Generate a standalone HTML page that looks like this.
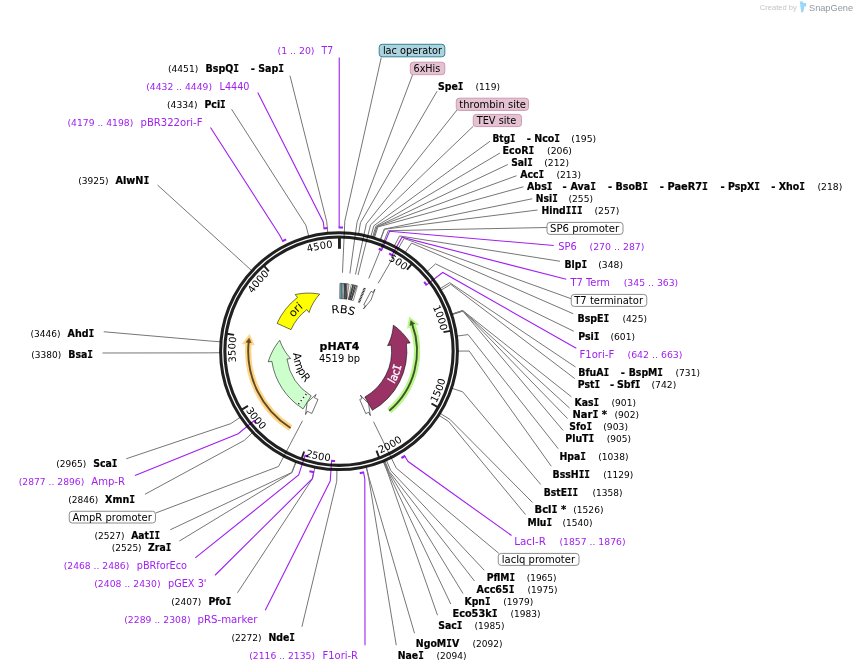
<!DOCTYPE html>
<html><head><meta charset="utf-8"><title>pHAT4 Map</title>
<style>html,body{margin:0;padding:0;background:#fff}svg{display:block;opacity:0.999;will-change:transform}</style>
</head><body>
<svg width="857" height="672" viewBox="0 0 857 672" font-family='"DejaVu Sans", "Liberation Sans", sans-serif'>
<rect width="857" height="672" fill="#fff"/>
<path d="M290,75.75 L326.71,221.58 L327.77,232.73 M231.6,109.25 L305.88,225.28 L308.73,236.12 M157.5,185 L243.28,262.94 L251.52,270.53 M103.75,331.75 L209.21,340.94 L220.37,341.82 M102.5,353 L208.81,352.87 L220.01,352.73 M126.25,458.75 L230.8,423.62 L240.11,417.39 M145,494.25 L244.21,440.46 L252.36,432.78 M155.75,513 L278.51,466.5 L302.53,420.71 M170.25,529.75 L291.68,472.5 L295.75,462.06 M179.4,541 L292.02,472.63 L296.06,462.18 M237.5,592.75 L312.48,478.67 L314.77,467.71 M301.9,626.75 L336.74,481.38 L336.93,470.18 M381.25,57.5 L344.79,221.13 L342.49,272.78 M412.5,75 L357.04,222.26 L349.88,273.46 M437,91.25 L360.44,222.78 L358.6,233.83 M457,110 L366.31,223.9 L355.47,274.45 M473.25,126.25 L370.54,224.88 L358.02,275.04 M490,141.25 L373.87,225.76 L370.87,236.55 M500,153 L375.78,226.3 L372.62,237.05 M507.75,164.5 L376.82,226.62 L373.57,237.33 M516.5,175.75 L377,226.67 L373.73,237.38 M523.5,186.75 L377.86,226.94 L374.52,237.62 M532.25,198.75 L384.2,229.1 L380.31,239.6 M537.5,210 L384.54,229.22 L380.62,239.72 M547,227.5 L388.25,230.67 L368.69,278.53 M560,261.25 L399.57,235.95 L394.36,245.86 M571.25,298.75 L404.09,238.44 L378.24,283.21 M573.25,313.75 L411.54,243.08 L405.3,252.38 M573.75,331.25 L435.57,263.87 L427.26,271.39 M575.5,367 L449.7,282.66 L440.17,288.55 M574.8,378.6 L450.73,284.36 L441.12,290.11 M571.4,396.8 L462.67,310.48 L452.03,313.99 M569.6,408.1 L462.73,310.66 L452.08,314.14 M567.6,418.6 L462.78,310.83 L452.13,314.3 M563.1,430.5 L462.89,311.17 L452.24,314.62 M558.25,448.75 L468.14,334.64 L457.03,336.06 M551.25,466.25 L469.2,351.06 L458,351.08 M540.75,484.5 L462.7,391.83 L452.06,388.33 M532.5,502.5 L449.93,419.36 L440.39,413.5 M525.5,514.5 L448.59,421.5 L439.16,415.46 M498.75,553.25 L396.26,468.13 L373.52,421.7 M484.25,570.25 L390.84,470.64 L386.38,460.36 M474.5,581 L389.17,471.35 L384.85,461.01 M463,593.5 L388.5,471.62 L384.24,461.26 M450.75,604 L387.83,471.9 L383.63,461.51 M437.5,615.25 L387.49,472.03 L383.32,461.64 M414.5,633.25 L369.05,477.89 L366.46,466.99 M396.25,645.25 L368.7,477.97 L366.14,467.06" fill="none" stroke="#767676" stroke-width="1"/>
<path d="M339.25,57.5 L339.18,221 L339.17,227.5 M257.75,92.5 L323.29,221.95 L324.07,228.4 M210.5,127.5 L279.72,235.28 L282.68,241.07 M135,475.5 L238.24,433.66 L254.03,420.74 M195.25,557.9 L298.67,475 L304.99,455.6 M215,575.25 L312.31,478.63 L313.64,472.27 M265.25,610.25 L330.23,481.1 L331.6,460.75 M365,645.25 L364.81,478.82 L363.52,472.45 M553.75,245.5 L389.59,231.23 L381.66,250.03 M566.25,279.25 L401.96,237.23 L392.09,255.09 M576.25,348.25 L442.73,272.51 L426.48,284.84 M511.5,535.5 L408.12,461.54 L404.67,456.03" fill="none" stroke="#a020f0" stroke-width="1.1"/>
<circle cx="339" cy="351.2" r="118.4" fill="none" stroke="#000" stroke-opacity="0.875" stroke-width="3"/>
<circle cx="339" cy="351.2" r="114.15" fill="none" stroke="#000" stroke-opacity="0.875" stroke-width="3.1"/>
<path d="M338.62,227.5 A123.7 123.7 0 0 1 342.99,227.56 M323.53,228.47 A123.7 123.7 0 0 1 327.53,228.03 M282.19,241.32 A123.7 123.7 0 0 1 286.1,239.38 M256.25,423.37 A109.8 109.8 0 0 1 253.68,420.31 M308.14,456.57 A109.8 109.8 0 0 1 304.47,455.43 M314.18,472.38 A123.7 123.7 0 0 1 309.41,471.31 M335.05,460.93 A109.8 109.8 0 0 1 331.05,460.71 M364.06,472.34 A123.7 123.7 0 0 1 359.76,473.14 M378.75,248.85 A109.8 109.8 0 0 1 382.17,250.24 M389.18,253.54 A109.8 109.8 0 0 1 392.58,255.36 M424.16,281.89 A109.8 109.8 0 0 1 426.81,285.28 M405.13,455.74 A123.7 123.7 0 0 1 401.4,458.01" fill="none" stroke="#a020f0" stroke-width="2.1"/>
<path d="M411.7,264.04 L407.02,269.65 M450.66,330.84 L443.48,332.14 M437.79,407.08 L431.44,403.49 M379.07,457.39 L376.49,450.56 M301.75,458.41 L304.15,451.52 M241.72,409.67 L247.98,405.91 M226.84,333.79 L234.06,334.91 M264.02,265.99 L268.84,271.47" stroke="#202020" stroke-width="1.9" fill="none"/>
<path d="M339.45,237.7 L339.45,248.8" stroke="#202020" stroke-width="2.9" fill="none"/>
<path id="tp1" d="M260.91,419.27 A103.6 103.6 0 0 1 404.09,270.6 A103.6 103.6 0 0 1 288.9,441.88" fill="none"/>
<text font-size="10" fill="#000"><textPath href="#tp1" startOffset="50%" text-anchor="end" textLength="19.08" lengthAdjust="spacingAndGlyphs">500</textPath></text>
<path id="tp2" d="M235.42,353.45 A103.6 103.6 0 0 1 440.61,330.99 A103.6 103.6 0 0 1 242.44,388.74" fill="none"/>
<text font-size="10" fill="#000"><textPath href="#tp2" startOffset="50%" text-anchor="end" textLength="25.44" lengthAdjust="spacingAndGlyphs">1000</textPath></text>
<path id="tp3" d="M234.16,316.93 A110.3 110.3 0 0 0 436.3,403.16 A110.3 110.3 0 0 0 252.2,283.14" fill="none"/>
<text font-size="10" fill="#000"><textPath href="#tp3" startOffset="50%" text-anchor="start" textLength="25.44" lengthAdjust="spacingAndGlyphs">1500</textPath></text>
<path id="tp4" d="M280.44,257.73 A110.3 110.3 0 0 0 380.44,453.42 A110.3 110.3 0 0 0 315.95,243.34" fill="none"/>
<text font-size="10" fill="#000"><textPath href="#tp4" startOffset="50%" text-anchor="start" textLength="25.44" lengthAdjust="spacingAndGlyphs">2000</textPath></text>
<path id="tp5" d="M353.91,241.91 A110.3 110.3 0 0 0 305.34,456.24 A110.3 110.3 0 0 0 390.39,253.6" fill="none"/>
<text font-size="10" fill="#000"><textPath href="#tp5" startOffset="50%" text-anchor="start" textLength="25.44" lengthAdjust="spacingAndGlyphs">2500</textPath></text>
<path id="tp6" d="M420.45,276.82 A110.3 110.3 0 0 0 245.87,410.3 A110.3 110.3 0 0 0 440.98,309.17" fill="none"/>
<text font-size="10" fill="#000"><textPath href="#tp6" startOffset="50%" text-anchor="start" textLength="25.44" lengthAdjust="spacingAndGlyphs">3000</textPath></text>
<path id="tp7" d="M437.58,383.06 A103.6 103.6 0 0 1 236.39,336.94 A103.6 103.6 0 0 1 442.53,347.43" fill="none"/>
<text font-size="10" fill="#000"><textPath href="#tp7" startOffset="50%" text-anchor="end" textLength="25.44" lengthAdjust="spacingAndGlyphs">3500</textPath></text>
<path id="tp8" d="M394.29,438.81 A103.6 103.6 0 0 1 269.34,274.52 A103.6 103.6 0 0 1 420.92,414.62" fill="none"/>
<text font-size="10" fill="#000"><textPath href="#tp8" startOffset="50%" text-anchor="end" textLength="25.44" lengthAdjust="spacingAndGlyphs">4000</textPath></text>
<path id="tp9" d="M327.17,454.12 A103.6 103.6 0 0 1 332.78,247.79 A103.6 103.6 0 0 1 363.08,451.96" fill="none"/>
<text font-size="10" fill="#000"><textPath href="#tp9" startOffset="50%" text-anchor="end" textLength="25.44" lengthAdjust="spacingAndGlyphs">4500</textPath></text>
<path d="M290.58,428.01 A90.8 90.8 0 0 1 248.68,341.91" fill="none" stroke="#ffd583" stroke-width="6.3"/>
<path d="M249.14,338.14 L246.04,342.16 L251.21,342.66 Z" fill="#ffd583" stroke="#ffd583" stroke-width="4.4" stroke-linejoin="miter" stroke-miterlimit="10"/>
<path d="M290.58,428.01 A90.8 90.8 0 0 1 248.68,341.91" fill="none" stroke="#5e4a26" stroke-width="1.9"/>
<path d="M249.14,338.14 L246.04,342.16 L251.21,342.66 Z" fill="#5e4a26" stroke="#5e4a26" stroke-width="0.5"/>
<path d="M389.25,410.85 A78 78 0 0 0 412.14,324.08" fill="none" stroke="#bbf68a" stroke-width="6.3"/>
<path d="M410.73,320.55 L414.75,323.67 L409.86,325.44 Z" fill="#bbf68a" stroke="#bbf68a" stroke-width="4.4" stroke-linejoin="miter" stroke-miterlimit="10"/>
<path d="M389.25,410.85 A78 78 0 0 0 412.14,324.08" fill="none" stroke="#3c5726" stroke-width="1.9"/>
<path d="M410.73,320.55 L414.75,323.67 L409.86,325.44 Z" fill="#3c5726" stroke="#3c5726" stroke-width="0.5"/>
<path d="M291.02,329.64 A52.6 52.6 0 0 1 306.82,309.59 L309.08,312.52 L309.89,310.16 L310.84,307.8 L311.94,305.44 L313.19,303.11 L314.59,300.81 L316.13,298.54 L317.82,296.31 L319.66,294.14 L316.8,293.66 L313.87,293.33 L310.88,293.15 L307.83,293.11 L304.72,293.23 L301.58,293.51 L298.4,293.95 L295.19,294.56 L297.46,297.49 A67.9 67.9 0 0 0 277.07,323.37 Z" fill="#ffff00" stroke="#000" stroke-opacity="0.62" stroke-width="0.9" stroke-linejoin="miter"/>
<path d="M311.2,395.85 A52.6 52.6 0 0 1 286.99,359.05 L290.65,358.5 L288.98,356.64 L287.38,354.66 L285.86,352.55 L284.43,350.33 L283.1,347.99 L281.87,345.53 L280.75,342.97 L279.74,340.31 L277.94,342.57 L276.22,344.97 L274.6,347.5 L273.08,350.15 L271.68,352.91 L270.39,355.8 L269.23,358.79 L268.2,361.89 L271.86,361.33 A67.9 67.9 0 0 0 303.11,408.84 Z" fill="#ccffcc" stroke="#000" stroke-opacity="0.62" stroke-width="0.9" stroke-linejoin="miter"/>
<path d="M364.85,397.01 A52.6 52.6 0 0 0 391.25,345.13 L387.57,345.55 L388.7,343.32 L389.72,340.99 L390.63,338.56 L391.43,336.04 L392.1,333.43 L392.64,330.74 L393.05,327.97 L393.32,325.14 L395.66,326.85 L397.94,328.71 L400.17,330.72 L402.33,332.88 L404.41,335.19 L406.41,337.63 L408.32,340.21 L410.12,342.93 L406.45,343.36 A67.9 67.9 0 0 1 372.37,410.33 Z" fill="#993366" stroke="#000" stroke-opacity="0.62" stroke-width="0.9" stroke-linejoin="miter"/>
<path d="M306.69,393.46 L298.12,404.66" stroke="#fff" stroke-width="1.6" fill="none"/>
<path d="M306.32,393.94 L298.12,404.66" stroke="#222" stroke-width="1.5" stroke-dasharray="1.3 2.6" fill="none"/>
<path d="M317.99,399.42 A52.6 52.6 0 0 1 314.41,397.7 L316.14,394.43 L307.19,402.37 L305.53,414.5 L307.26,411.23 A67.9 67.9 0 0 0 311.88,413.45 Z" fill="#ffffff" stroke="#000" stroke-opacity="0.62" stroke-width="0.9" stroke-linejoin="miter"/>
<path d="M359.74,399.54 A52.6 52.6 0 0 0 362.02,398.49 L360.4,395.17 L368.54,403.71 L370.34,415.58 L368.72,412.25 A67.9 67.9 0 0 1 365.77,413.6 Z" fill="#ffffff" stroke="#000" stroke-opacity="0.62" stroke-width="0.9" stroke-linejoin="miter"/>
<path d="M340.46,298.62 A52.6 52.6 0 0 1 341.92,298.68 L342.77,283.4 A67.9 67.9 0 0 0 340.89,283.33 Z" fill="#31849b" stroke="none"/>
<path d="M341.92,298.68 A52.6 52.6 0 0 1 342.8,298.74 L343.9,283.48 A67.9 67.9 0 0 0 342.77,283.4 Z" fill="#6e7478" stroke="none"/>
<path d="M342.8,298.74 A52.6 52.6 0 0 1 343.82,298.82 L345.22,283.59 A67.9 67.9 0 0 0 343.9,283.48 Z" fill="#a3a8ab" stroke="none"/>
<path d="M343.82,298.82 A52.6 52.6 0 0 1 344.84,298.93 L346.54,283.72 A67.9 67.9 0 0 0 345.22,283.59 Z" fill="#8f9396" stroke="none"/>
<path d="M344.84,298.93 A52.6 52.6 0 0 1 346.8,299.18 L349.06,284.05 A67.9 67.9 0 0 0 346.54,283.72 Z" fill="#f4f4f4" stroke="none"/>
<path d="M339.73,298.61 A52.6 52.6 0 0 1 346.8,299.18 L349.06,284.05 A67.9 67.9 0 0 0 339.94,283.31 Z" fill="none" stroke="#000" stroke-opacity="0.75" stroke-width="0.6"/>
<path d="M339.73,298.61 A52.6 52.6 0 0 1 340.39,298.62 L340.79,283.32 A67.9 67.9 0 0 0 339.94,283.31 Z" fill="#6a6a6a" stroke="none"/>
<path d="M345.22,283.59 L345.27,298.98 M345.97,283.66 L346,299.07 M346.91,283.76 L346.58,299.15 M344.47,283.52 L344.26,298.86" stroke="#222" stroke-width="0.8" fill="none"/>
<path d="M348.46,299.46 A52.6 52.6 0 0 1 353.3,300.58 L357.46,285.86 A67.9 67.9 0 0 0 351.21,284.41 Z" fill="#ffffff" stroke="#000" stroke-opacity="0.75" stroke-width="0.6"/>
<path d="M352.87,284.73 L348.6,299.48 M354.17,285.02 L349.32,299.62 M355.45,285.32 L350.32,299.83 M356.73,285.66 L351.32,300.06 M353.06,284.77 L349.89,299.74 M355.08,285.23 L351.46,300.1" stroke="#222" stroke-width="0.75" fill="none"/>
<path d="M364.8,288.07 L358.78,302.79" stroke="#2a2a2a" stroke-width="2.3" stroke-dasharray="1 0.55" fill="none"/>
<path d="M363.79,304.81 A52.6 52.6 0 0 1 365.4,305.7 L363.54,308.9 L370.95,300.12 L374.93,289.27 L373.08,292.47 A67.9 67.9 0 0 0 371,291.32 Z" fill="#ffffff" stroke="#000" stroke-opacity="0.62" stroke-width="0.9" stroke-linejoin="miter"/>
<path id="tp10" d="M372.41,396.52 A56.3 56.3 0 0 1 298.23,312.37 A56.3 56.3 0 0 1 385.89,382.36" fill="none"/>
<text font-size="11" fill="#000"><textPath href="#tp10" startOffset="50%" text-anchor="middle" textLength="14.6" lengthAdjust="spacingAndGlyphs">ori</textPath></text>
<path id="tp11" d="M276.13,338.18 A64.2 64.2 0 0 0 398.65,374.94 A64.2 64.2 0 0 0 284.38,317.46" fill="none"/>
<text font-size="11" fill="#fff" stroke="#fff" stroke-width="0.35"><textPath href="#tp11" startOffset="50%" text-anchor="middle" textLength="20" lengthAdjust="spacingAndGlyphs">lac<tspan font-family="DejaVu Sans Mono">I</tspan></textPath></text>
<path id="tp12" d="M377.71,326.35 A46 46 0 0 0 296.56,368.95 A46 46 0 0 0 383.87,341.09" fill="none"/>
<text font-size="11" fill="#000"><textPath href="#tp12" startOffset="50%" text-anchor="middle" textLength="32.5" lengthAdjust="spacingAndGlyphs">AmpR</textPath></text>
<path id="tp13" d="M328.44,388.02 A38.3 38.3 0 0 1 343,313.11 A38.3 38.3 0 0 1 341.67,389.41" fill="none"/>
<text font-size="11" fill="#000"><textPath href="#tp13" startOffset="50%" text-anchor="middle" textLength="22.7" lengthAdjust="spacingAndGlyphs">RBS</textPath></text>
<text x="319.6" y="349.8" font-size="10.7" font-weight="bold" stroke="#000" stroke-width="0.2" textLength="39.8" lengthAdjust="spacingAndGlyphs">pHAT4</text>
<text x="319" y="361.8" font-size="10" textLength="41" lengthAdjust="spacingAndGlyphs">4519 bp</text>
<text x="277.5" y="54.25" font-size="8.6" fill="#a020f0" textLength="37" lengthAdjust="spacingAndGlyphs">(1 .. 20)</text>
<text x="321.5" y="54.25" font-size="10" fill="#a020f0" textLength="11.5" lengthAdjust="spacingAndGlyphs">T7</text>
<text x="168" y="72" font-size="8.6" fill="#000" textLength="30.25" lengthAdjust="spacingAndGlyphs">(4451)</text>
<text x="205.5" y="72" font-size="10" font-weight="bold" stroke="#000" stroke-width="0.22" fill="#000" textLength="33.5" lengthAdjust="spacingAndGlyphs">BspQ<tspan font-family="DejaVu Sans Mono">I</tspan></text>
<text x="250.75" y="72" font-size="10" font-weight="bold" stroke="#000" stroke-width="0.22" fill="#000">-</text>
<text x="258.25" y="72" font-size="10" font-weight="bold" stroke="#000" stroke-width="0.22" fill="#000" textLength="25.75" lengthAdjust="spacingAndGlyphs">Sap<tspan font-family="DejaVu Sans Mono">I</tspan></text>
<text x="146.25" y="90" font-size="8.6" fill="#a020f0" textLength="65.75" lengthAdjust="spacingAndGlyphs">(4432 .. 4449)</text>
<text x="219.5" y="90" font-size="10" fill="#a020f0" textLength="30" lengthAdjust="spacingAndGlyphs">L4440</text>
<text x="167" y="108" font-size="8.6" fill="#000" textLength="30.5" lengthAdjust="spacingAndGlyphs">(4334)</text>
<text x="204.5" y="108" font-size="10" font-weight="bold" stroke="#000" stroke-width="0.22" fill="#000" textLength="21.25" lengthAdjust="spacingAndGlyphs">Pci<tspan font-family="DejaVu Sans Mono">I</tspan></text>
<text x="67.5" y="126" font-size="8.6" fill="#a020f0" textLength="65.75" lengthAdjust="spacingAndGlyphs">(4179 .. 4198)</text>
<text x="140.5" y="126" font-size="10" fill="#a020f0" textLength="62" lengthAdjust="spacingAndGlyphs">pBR322ori-F</text>
<text x="78.25" y="183.75" font-size="8.6" fill="#000" textLength="30.25" lengthAdjust="spacingAndGlyphs">(3925)</text>
<text x="115.5" y="183.75" font-size="10" font-weight="bold" stroke="#000" stroke-width="0.22" fill="#000" textLength="33.75" lengthAdjust="spacingAndGlyphs">AlwN<tspan font-family="DejaVu Sans Mono">I</tspan></text>
<text x="30.5" y="336.75" font-size="8.6" fill="#000" textLength="30" lengthAdjust="spacingAndGlyphs">(3446)</text>
<text x="67.5" y="336.75" font-size="10" font-weight="bold" stroke="#000" stroke-width="0.22" fill="#000" textLength="26.75" lengthAdjust="spacingAndGlyphs">Ahd<tspan font-family="DejaVu Sans Mono">I</tspan></text>
<text x="31.25" y="357.5" font-size="8.6" fill="#000" textLength="30" lengthAdjust="spacingAndGlyphs">(3380)</text>
<text x="68.25" y="357.5" font-size="10" font-weight="bold" stroke="#000" stroke-width="0.22" fill="#000" textLength="24.75" lengthAdjust="spacingAndGlyphs">Bsa<tspan font-family="DejaVu Sans Mono">I</tspan></text>
<text x="56.25" y="466.75" font-size="8.6" fill="#000" textLength="30" lengthAdjust="spacingAndGlyphs">(2965)</text>
<text x="93.25" y="466.75" font-size="10" font-weight="bold" stroke="#000" stroke-width="0.22" fill="#000" textLength="24.25" lengthAdjust="spacingAndGlyphs">Sca<tspan font-family="DejaVu Sans Mono">I</tspan></text>
<text x="18.75" y="484.5" font-size="8.6" fill="#a020f0" textLength="65.5" lengthAdjust="spacingAndGlyphs">(2877 .. 2896)</text>
<text x="91.25" y="484.5" font-size="10" fill="#a020f0" textLength="33.75" lengthAdjust="spacingAndGlyphs">Amp-R</text>
<text x="68.25" y="502.5" font-size="8.6" fill="#000" textLength="30" lengthAdjust="spacingAndGlyphs">(2846)</text>
<text x="105" y="502.5" font-size="10" font-weight="bold" stroke="#000" stroke-width="0.22" fill="#000" textLength="30" lengthAdjust="spacingAndGlyphs">Xmn<tspan font-family="DejaVu Sans Mono">I</tspan></text>
<rect x="69.25" y="511.25" width="86.25" height="11.75" rx="3" ry="3" fill="#ffffff" stroke="#8c8c8c" stroke-width="1"/>
<text x="72.5" y="520.5" font-size="10" fill="#000" textLength="79.25" lengthAdjust="spacingAndGlyphs">AmpR promoter</text>
<text x="94.5" y="538.5" font-size="8.6" fill="#000" textLength="30" lengthAdjust="spacingAndGlyphs">(2527)</text>
<text x="131.25" y="538.5" font-size="10" font-weight="bold" stroke="#000" stroke-width="0.22" fill="#000" textLength="28.75" lengthAdjust="spacingAndGlyphs">Aat<tspan font-family="DejaVu Sans Mono">I</tspan><tspan font-family="DejaVu Sans Mono">I</tspan></text>
<text x="111.75" y="550.6" font-size="8.6" fill="#000" textLength="29.85" lengthAdjust="spacingAndGlyphs">(2525)</text>
<text x="148.1" y="550.6" font-size="10" font-weight="bold" stroke="#000" stroke-width="0.22" fill="#000" textLength="23.15" lengthAdjust="spacingAndGlyphs">Zra<tspan font-family="DejaVu Sans Mono">I</tspan></text>
<text x="63.75" y="568.5" font-size="8.6" fill="#a020f0" textLength="65.5" lengthAdjust="spacingAndGlyphs">(2468 .. 2486)</text>
<text x="136.75" y="568.5" font-size="10" fill="#a020f0" textLength="50.25" lengthAdjust="spacingAndGlyphs">pBRforEco</text>
<text x="94.25" y="586.5" font-size="8.6" fill="#a020f0" textLength="66.25" lengthAdjust="spacingAndGlyphs">(2408 .. 2430)</text>
<text x="168" y="586.5" font-size="10" fill="#a020f0" textLength="38.5" lengthAdjust="spacingAndGlyphs">pGEX 3&#39;</text>
<text x="171.25" y="604.5" font-size="8.6" fill="#000" textLength="30" lengthAdjust="spacingAndGlyphs">(2407)</text>
<text x="208.5" y="604.5" font-size="10" font-weight="bold" stroke="#000" stroke-width="0.22" fill="#000" textLength="22.75" lengthAdjust="spacingAndGlyphs">Pfo<tspan font-family="DejaVu Sans Mono">I</tspan></text>
<text x="124.25" y="622.5" font-size="8.6" fill="#a020f0" textLength="66.25" lengthAdjust="spacingAndGlyphs">(2289 .. 2308)</text>
<text x="197.5" y="622.5" font-size="10" fill="#a020f0" textLength="60" lengthAdjust="spacingAndGlyphs">pRS-marker</text>
<text x="231.4" y="640.6" font-size="8.6" fill="#000" textLength="30.2" lengthAdjust="spacingAndGlyphs">(2272)</text>
<text x="268.5" y="640.6" font-size="10" font-weight="bold" stroke="#000" stroke-width="0.22" fill="#000" textLength="26.5" lengthAdjust="spacingAndGlyphs">Nde<tspan font-family="DejaVu Sans Mono">I</tspan></text>
<text x="249.25" y="658.5" font-size="8.6" fill="#a020f0" textLength="65.75" lengthAdjust="spacingAndGlyphs">(2116 .. 2135)</text>
<text x="322.5" y="658.5" font-size="10" fill="#a020f0" textLength="35.5" lengthAdjust="spacingAndGlyphs">F1ori-R</text>
<rect x="379.2" y="44.3" width="65.6" height="12.5" rx="3" ry="3" fill="#add4de" stroke="#31849b" stroke-width="1"/>
<text x="382.9" y="53.9" font-size="10" fill="#000" textLength="59.2" lengthAdjust="spacingAndGlyphs">lac operator</text>
<rect x="410.3" y="62.2" width="34.5" height="12.5" rx="3" ry="3" fill="#e5c2d1" stroke="#cc99b2" stroke-width="1"/>
<text x="413.5" y="71.7" font-size="10" fill="#000" textLength="26.8" lengthAdjust="spacingAndGlyphs">6xHis</text>
<text x="438" y="90" font-size="10" font-weight="bold" stroke="#000" stroke-width="0.22" fill="#000" textLength="25.5" lengthAdjust="spacingAndGlyphs">Spe<tspan font-family="DejaVu Sans Mono">I</tspan></text>
<text x="475.5" y="90" font-size="8.6" fill="#000" textLength="24.5" lengthAdjust="spacingAndGlyphs">(119)</text>
<rect x="456.25" y="98.2" width="72.25" height="12.2" rx="3" ry="3" fill="#e5c2d1" stroke="#cc99b2" stroke-width="1"/>
<text x="459.25" y="107.8" font-size="10" fill="#000" textLength="66.75" lengthAdjust="spacingAndGlyphs">thrombin site</text>
<rect x="473.25" y="114.4" width="48.25" height="12.2" rx="3" ry="3" fill="#e5c2d1" stroke="#cc99b2" stroke-width="1"/>
<text x="476.75" y="124" font-size="10" fill="#000" textLength="39.5" lengthAdjust="spacingAndGlyphs">TEV site</text>
<text x="492.5" y="142" font-size="10" font-weight="bold" stroke="#000" stroke-width="0.22" fill="#000" textLength="23" lengthAdjust="spacingAndGlyphs">Btg<tspan font-family="DejaVu Sans Mono">I</tspan></text>
<text x="526.75" y="142" font-size="10" font-weight="bold" stroke="#000" stroke-width="0.22" fill="#000">-</text>
<text x="534.25" y="142" font-size="10" font-weight="bold" stroke="#000" stroke-width="0.22" fill="#000" textLength="25.75" lengthAdjust="spacingAndGlyphs">Nco<tspan font-family="DejaVu Sans Mono">I</tspan></text>
<text x="571.25" y="142" font-size="8.6" fill="#000" textLength="25" lengthAdjust="spacingAndGlyphs">(195)</text>
<text x="502.5" y="153.75" font-size="10" font-weight="bold" stroke="#000" stroke-width="0.22" fill="#000" textLength="31.75" lengthAdjust="spacingAndGlyphs">EcoR<tspan font-family="DejaVu Sans Mono">I</tspan></text>
<text x="547" y="153.75" font-size="8.6" fill="#000" textLength="25" lengthAdjust="spacingAndGlyphs">(206)</text>
<text x="511.25" y="165.75" font-size="10" font-weight="bold" stroke="#000" stroke-width="0.22" fill="#000" textLength="21.5" lengthAdjust="spacingAndGlyphs">Sal<tspan font-family="DejaVu Sans Mono">I</tspan></text>
<text x="544.25" y="165.75" font-size="8.6" fill="#000" textLength="24.75" lengthAdjust="spacingAndGlyphs">(212)</text>
<text x="520.25" y="177.75" font-size="10" font-weight="bold" stroke="#000" stroke-width="0.22" fill="#000" textLength="24" lengthAdjust="spacingAndGlyphs">Acc<tspan font-family="DejaVu Sans Mono">I</tspan></text>
<text x="556.4" y="177.75" font-size="8.6" fill="#000" textLength="24.6" lengthAdjust="spacingAndGlyphs">(213)</text>
<text x="527" y="189.5" font-size="10" font-weight="bold" stroke="#000" stroke-width="0.22" fill="#000" textLength="25.5" lengthAdjust="spacingAndGlyphs">Abs<tspan font-family="DejaVu Sans Mono">I</tspan></text>
<text x="562.5" y="189.5" font-size="10" font-weight="bold" stroke="#000" stroke-width="0.22" fill="#000">-</text>
<text x="570.5" y="189.5" font-size="10" font-weight="bold" stroke="#000" stroke-width="0.22" fill="#000" textLength="25.5" lengthAdjust="spacingAndGlyphs">Ava<tspan font-family="DejaVu Sans Mono">I</tspan></text>
<text x="608" y="189.5" font-size="10" font-weight="bold" stroke="#000" stroke-width="0.22" fill="#000">-</text>
<text x="615.5" y="189.5" font-size="10" font-weight="bold" stroke="#000" stroke-width="0.22" fill="#000" textLength="32.5" lengthAdjust="spacingAndGlyphs">BsoB<tspan font-family="DejaVu Sans Mono">I</tspan></text>
<text x="659.75" y="189.5" font-size="10" font-weight="bold" stroke="#000" stroke-width="0.22" fill="#000">-</text>
<text x="667.5" y="189.5" font-size="10" font-weight="bold" stroke="#000" stroke-width="0.22" fill="#000" textLength="40.5" lengthAdjust="spacingAndGlyphs">PaeR7<tspan font-family="DejaVu Sans Mono">I</tspan></text>
<text x="720.5" y="189.5" font-size="10" font-weight="bold" stroke="#000" stroke-width="0.22" fill="#000">-</text>
<text x="728" y="189.5" font-size="10" font-weight="bold" stroke="#000" stroke-width="0.22" fill="#000" textLength="32" lengthAdjust="spacingAndGlyphs">PspX<tspan font-family="DejaVu Sans Mono">I</tspan></text>
<text x="771.25" y="189.5" font-size="10" font-weight="bold" stroke="#000" stroke-width="0.22" fill="#000">-</text>
<text x="778.75" y="189.5" font-size="10" font-weight="bold" stroke="#000" stroke-width="0.22" fill="#000" textLength="26.25" lengthAdjust="spacingAndGlyphs">Xho<tspan font-family="DejaVu Sans Mono">I</tspan></text>
<text x="817.5" y="189.5" font-size="8.6" fill="#000" textLength="24.75" lengthAdjust="spacingAndGlyphs">(218)</text>
<text x="535.75" y="201.75" font-size="10" font-weight="bold" stroke="#000" stroke-width="0.22" fill="#000" textLength="22" lengthAdjust="spacingAndGlyphs">Nsi<tspan font-family="DejaVu Sans Mono">I</tspan></text>
<text x="568.5" y="201.75" font-size="8.6" fill="#000" textLength="24.5" lengthAdjust="spacingAndGlyphs">(255)</text>
<text x="541.5" y="213.75" font-size="10" font-weight="bold" stroke="#000" stroke-width="0.22" fill="#000" textLength="41" lengthAdjust="spacingAndGlyphs">Hind<tspan font-family="DejaVu Sans Mono">I</tspan><tspan font-family="DejaVu Sans Mono">I</tspan><tspan font-family="DejaVu Sans Mono">I</tspan></text>
<text x="594.5" y="213.75" font-size="8.6" fill="#000" textLength="24.75" lengthAdjust="spacingAndGlyphs">(257)</text>
<rect x="547" y="222.4" width="76" height="12" rx="3" ry="3" fill="#ffffff" stroke="#8c8c8c" stroke-width="1"/>
<text x="550" y="232" font-size="10" fill="#000" textLength="69.25" lengthAdjust="spacingAndGlyphs">SP6 promoter</text>
<text x="558.25" y="249.5" font-size="10" fill="#a020f0" textLength="18.5" lengthAdjust="spacingAndGlyphs">SP6</text>
<text x="589.5" y="249.5" font-size="8.6" fill="#a020f0" textLength="55" lengthAdjust="spacingAndGlyphs">(270 .. 287)</text>
<text x="564.5" y="268" font-size="10" font-weight="bold" stroke="#000" stroke-width="0.22" fill="#000" textLength="22.5" lengthAdjust="spacingAndGlyphs">Blp<tspan font-family="DejaVu Sans Mono">I</tspan></text>
<text x="598.25" y="268" font-size="8.6" fill="#000" textLength="24.75" lengthAdjust="spacingAndGlyphs">(348)</text>
<text x="570.5" y="285.5" font-size="10" fill="#a020f0" textLength="39.5" lengthAdjust="spacingAndGlyphs">T7 Term</text>
<text x="623.75" y="285.5" font-size="8.6" fill="#a020f0" textLength="54.5" lengthAdjust="spacingAndGlyphs">(345 .. 363)</text>
<rect x="571.25" y="294.4" width="75.5" height="12" rx="3" ry="3" fill="#ffffff" stroke="#8c8c8c" stroke-width="1"/>
<text x="574.25" y="303.75" font-size="10" fill="#000" textLength="68.75" lengthAdjust="spacingAndGlyphs">T7 terminator</text>
<text x="577.5" y="321.75" font-size="10" font-weight="bold" stroke="#000" stroke-width="0.22" fill="#000" textLength="31.75" lengthAdjust="spacingAndGlyphs">BspE<tspan font-family="DejaVu Sans Mono">I</tspan></text>
<text x="622.5" y="321.75" font-size="8.6" fill="#000" textLength="24.5" lengthAdjust="spacingAndGlyphs">(425)</text>
<text x="578.25" y="339.5" font-size="10" font-weight="bold" stroke="#000" stroke-width="0.22" fill="#000" textLength="21.25" lengthAdjust="spacingAndGlyphs">Psi<tspan font-family="DejaVu Sans Mono">I</tspan></text>
<text x="610.5" y="339.5" font-size="8.6" fill="#000" textLength="24.5" lengthAdjust="spacingAndGlyphs">(601)</text>
<text x="579.5" y="357.5" font-size="10" fill="#a020f0" textLength="34.75" lengthAdjust="spacingAndGlyphs">F1ori-F</text>
<text x="627.5" y="357.5" font-size="8.6" fill="#a020f0" textLength="55" lengthAdjust="spacingAndGlyphs">(642 .. 663)</text>
<text x="578.25" y="375.5" font-size="10" font-weight="bold" stroke="#000" stroke-width="0.22" fill="#000" textLength="31" lengthAdjust="spacingAndGlyphs">BfuA<tspan font-family="DejaVu Sans Mono">I</tspan></text>
<text x="620.75" y="375.5" font-size="10" font-weight="bold" stroke="#000" stroke-width="0.22" fill="#000">-</text>
<text x="628.75" y="375.5" font-size="10" font-weight="bold" stroke="#000" stroke-width="0.22" fill="#000" textLength="34.25" lengthAdjust="spacingAndGlyphs">BspM<tspan font-family="DejaVu Sans Mono">I</tspan></text>
<text x="675.5" y="375.5" font-size="8.6" fill="#000" textLength="24.5" lengthAdjust="spacingAndGlyphs">(731)</text>
<text x="577.75" y="387.5" font-size="10" font-weight="bold" stroke="#000" stroke-width="0.22" fill="#000" textLength="22.25" lengthAdjust="spacingAndGlyphs">Pst<tspan font-family="DejaVu Sans Mono">I</tspan></text>
<text x="610" y="387.5" font-size="10" font-weight="bold" stroke="#000" stroke-width="0.22" fill="#000">-</text>
<text x="617" y="387.5" font-size="10" font-weight="bold" stroke="#000" stroke-width="0.22" fill="#000" textLength="23.5" lengthAdjust="spacingAndGlyphs">Sbf<tspan font-family="DejaVu Sans Mono">I</tspan></text>
<text x="651.5" y="387.5" font-size="8.6" fill="#000" textLength="24.75" lengthAdjust="spacingAndGlyphs">(742)</text>
<text x="574.5" y="405.5" font-size="10" font-weight="bold" stroke="#000" stroke-width="0.22" fill="#000" textLength="24.5" lengthAdjust="spacingAndGlyphs">Kas<tspan font-family="DejaVu Sans Mono">I</tspan></text>
<text x="611.5" y="405.5" font-size="8.6" fill="#000" textLength="24.5" lengthAdjust="spacingAndGlyphs">(901)</text>
<text x="572.5" y="417.5" font-size="10" font-weight="bold" stroke="#000" stroke-width="0.22" fill="#000" textLength="34.5" lengthAdjust="spacingAndGlyphs">Nar<tspan font-family="DejaVu Sans Mono">I</tspan> *</text>
<text x="614.5" y="417.5" font-size="8.6" fill="#000" textLength="24.5" lengthAdjust="spacingAndGlyphs">(902)</text>
<text x="569.25" y="429.5" font-size="10" font-weight="bold" stroke="#000" stroke-width="0.22" fill="#000" textLength="22.75" lengthAdjust="spacingAndGlyphs">Sfo<tspan font-family="DejaVu Sans Mono">I</tspan></text>
<text x="603.25" y="429.5" font-size="8.6" fill="#000" textLength="24.75" lengthAdjust="spacingAndGlyphs">(903)</text>
<text x="565.25" y="441.5" font-size="10" font-weight="bold" stroke="#000" stroke-width="0.22" fill="#000" textLength="29" lengthAdjust="spacingAndGlyphs">PluT<tspan font-family="DejaVu Sans Mono">I</tspan></text>
<text x="606.75" y="441.5" font-size="8.6" fill="#000" textLength="24.25" lengthAdjust="spacingAndGlyphs">(905)</text>
<text x="559.5" y="459.5" font-size="10" font-weight="bold" stroke="#000" stroke-width="0.22" fill="#000" textLength="26.5" lengthAdjust="spacingAndGlyphs">Hpa<tspan font-family="DejaVu Sans Mono">I</tspan></text>
<text x="598.25" y="459.5" font-size="8.6" fill="#000" textLength="30.25" lengthAdjust="spacingAndGlyphs">(1038)</text>
<text x="552.5" y="477.5" font-size="10" font-weight="bold" stroke="#000" stroke-width="0.22" fill="#000" textLength="37.5" lengthAdjust="spacingAndGlyphs">BssH<tspan font-family="DejaVu Sans Mono">I</tspan><tspan font-family="DejaVu Sans Mono">I</tspan></text>
<text x="603.25" y="477.5" font-size="8.6" fill="#000" textLength="30" lengthAdjust="spacingAndGlyphs">(1129)</text>
<text x="543.75" y="495.5" font-size="10" font-weight="bold" stroke="#000" stroke-width="0.22" fill="#000" textLength="34.25" lengthAdjust="spacingAndGlyphs">BstE<tspan font-family="DejaVu Sans Mono">I</tspan><tspan font-family="DejaVu Sans Mono">I</tspan></text>
<text x="592.5" y="495.5" font-size="8.6" fill="#000" textLength="30" lengthAdjust="spacingAndGlyphs">(1358)</text>
<text x="534.5" y="513" font-size="10" font-weight="bold" stroke="#000" stroke-width="0.22" fill="#000" textLength="31.75" lengthAdjust="spacingAndGlyphs">Bcl<tspan font-family="DejaVu Sans Mono">I</tspan> *</text>
<text x="573.25" y="513" font-size="8.6" fill="#000" textLength="30.25" lengthAdjust="spacingAndGlyphs">(1526)</text>
<text x="527.5" y="525.5" font-size="10" font-weight="bold" stroke="#000" stroke-width="0.22" fill="#000" textLength="24.5" lengthAdjust="spacingAndGlyphs">Mlu<tspan font-family="DejaVu Sans Mono">I</tspan></text>
<text x="562.5" y="525.5" font-size="8.6" fill="#000" textLength="30" lengthAdjust="spacingAndGlyphs">(1540)</text>
<text x="514.25" y="544.5" font-size="10" fill="#a020f0" textLength="31.75" lengthAdjust="spacingAndGlyphs">LacI-R</text>
<text x="559.5" y="544.5" font-size="8.6" fill="#a020f0" textLength="66" lengthAdjust="spacingAndGlyphs">(1857 .. 1876)</text>
<rect x="498.25" y="553.4" width="80.75" height="12" rx="3" ry="3" fill="#ffffff" stroke="#8c8c8c" stroke-width="1"/>
<text x="501.75" y="562.75" font-size="10" fill="#000" textLength="73.25" lengthAdjust="spacingAndGlyphs">lacIq promoter</text>
<text x="486.75" y="580.75" font-size="10" font-weight="bold" stroke="#000" stroke-width="0.22" fill="#000" textLength="28.25" lengthAdjust="spacingAndGlyphs">PflM<tspan font-family="DejaVu Sans Mono">I</tspan></text>
<text x="526.75" y="580.75" font-size="8.6" fill="#000" textLength="29.75" lengthAdjust="spacingAndGlyphs">(1965)</text>
<text x="476.5" y="592.75" font-size="10" font-weight="bold" stroke="#000" stroke-width="0.22" fill="#000" textLength="38" lengthAdjust="spacingAndGlyphs">Acc65<tspan font-family="DejaVu Sans Mono">I</tspan></text>
<text x="527.5" y="592.75" font-size="8.6" fill="#000" textLength="30" lengthAdjust="spacingAndGlyphs">(1975)</text>
<text x="464.5" y="604.75" font-size="10" font-weight="bold" stroke="#000" stroke-width="0.22" fill="#000" textLength="26" lengthAdjust="spacingAndGlyphs">Kpn<tspan font-family="DejaVu Sans Mono">I</tspan></text>
<text x="503.25" y="604.75" font-size="8.6" fill="#000" textLength="30" lengthAdjust="spacingAndGlyphs">(1979)</text>
<text x="452.5" y="616.5" font-size="10" font-weight="bold" stroke="#000" stroke-width="0.22" fill="#000" textLength="45" lengthAdjust="spacingAndGlyphs">Eco53k<tspan font-family="DejaVu Sans Mono">I</tspan></text>
<text x="510.5" y="616.5" font-size="8.6" fill="#000" textLength="30" lengthAdjust="spacingAndGlyphs">(1983)</text>
<text x="438.25" y="628.5" font-size="10" font-weight="bold" stroke="#000" stroke-width="0.22" fill="#000" textLength="24.25" lengthAdjust="spacingAndGlyphs">Sac<tspan font-family="DejaVu Sans Mono">I</tspan></text>
<text x="474.5" y="628.5" font-size="8.6" fill="#000" textLength="30" lengthAdjust="spacingAndGlyphs">(1985)</text>
<text x="415.75" y="646.5" font-size="10" font-weight="bold" stroke="#000" stroke-width="0.22" fill="#000" textLength="43.5" lengthAdjust="spacingAndGlyphs">NgoM<tspan font-family="DejaVu Sans Mono">I</tspan>V</text>
<text x="472.5" y="646.5" font-size="8.6" fill="#000" textLength="30" lengthAdjust="spacingAndGlyphs">(2092)</text>
<text x="397.75" y="658.5" font-size="10" font-weight="bold" stroke="#000" stroke-width="0.22" fill="#000" textLength="26" lengthAdjust="spacingAndGlyphs">Nae<tspan font-family="DejaVu Sans Mono">I</tspan></text>
<text x="436.5" y="658.5" font-size="8.6" fill="#000" textLength="30" lengthAdjust="spacingAndGlyphs">(2094)</text>
<text x="759.8" y="10.2" font-size="7" fill="#c4c4c4" textLength="36.9" lengthAdjust="spacingAndGlyphs" font-family='"Liberation Sans", sans-serif'>Created by</text>
<path d="M799.8,1.6 L803.2,1.6 L803.2,3 L806.2,3 L806.2,6.6 L804.4,6.6 L803.2,12.2 L801.2,12.2 Z" fill="#9bd7f6"/>
<text x="809" y="10.6" font-size="9.6" fill="#8e98a2" textLength="44" lengthAdjust="spacingAndGlyphs" font-family='"Liberation Sans", sans-serif'>SnapGene</text>
</svg>
</body></html>
